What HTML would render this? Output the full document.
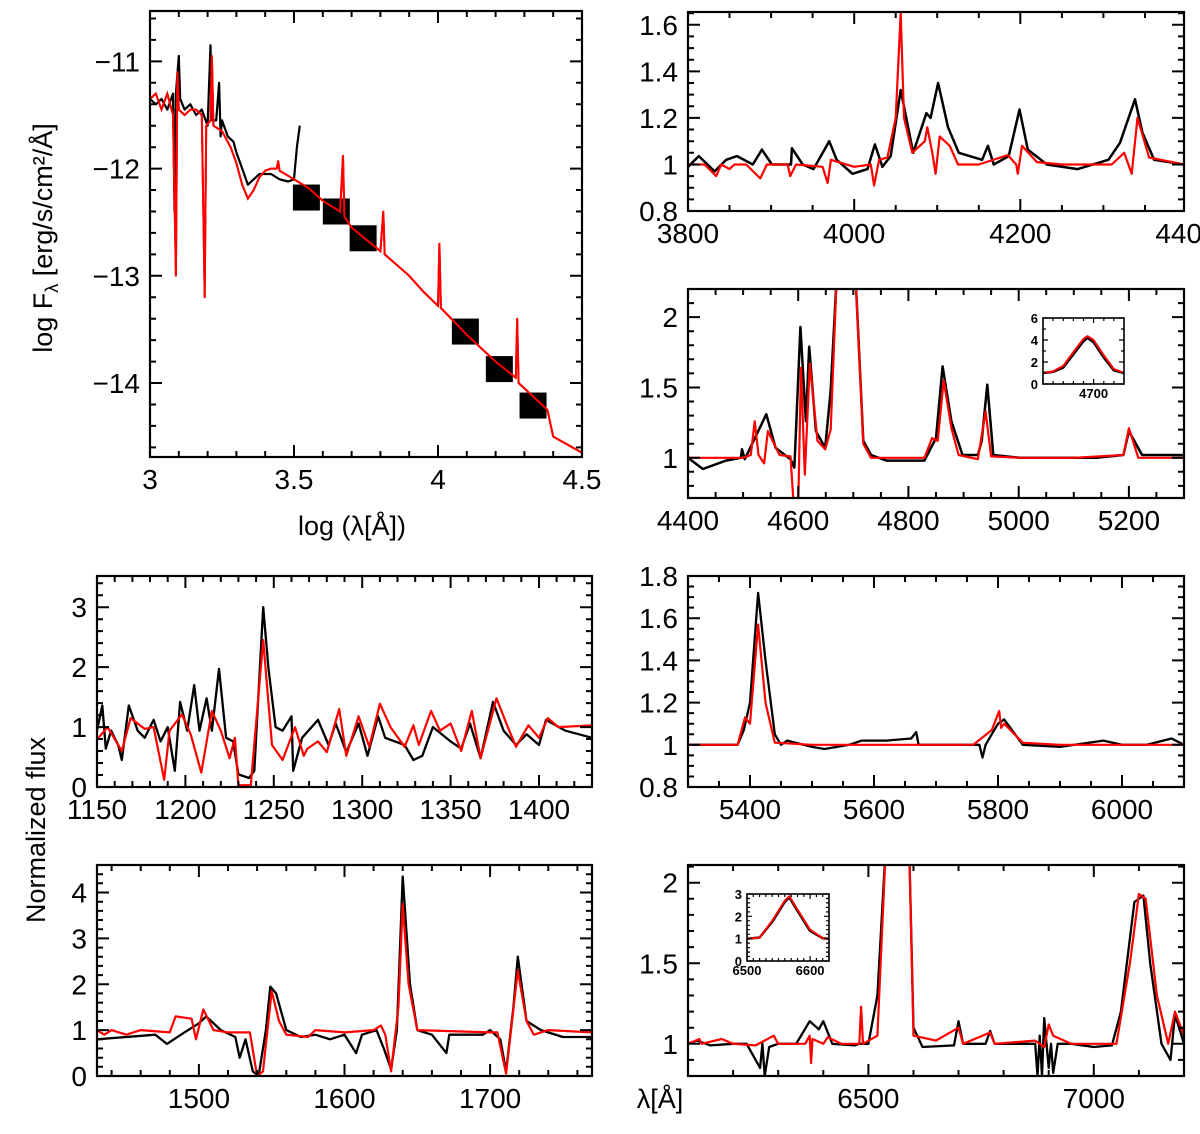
<!DOCTYPE html>
<html><head><meta charset="utf-8"><style>
html,body{margin:0;padding:0;background:#fff;}
svg text{font-family:"Liberation Sans",sans-serif;fill:#000;}
</style></head><body>
<svg id="fig" width="1200" height="1129" viewBox="0 0 1200 1129" xmlns="http://www.w3.org/2000/svg">
<text x="0" y="0" font-size="27" text-anchor="middle" transform="translate(52,238) rotate(-90)">log F<tspan font-size="18" dy="6">λ</tspan><tspan dy="-6"> [erg/s/cm²/Å]</tspan></text>
<text x="352" y="535" font-size="27" text-anchor="middle">log (λ[Å])</text>
<text x="0" y="0" font-size="27" text-anchor="middle" transform="translate(45,830) rotate(-90)">Normalized flux</text>
<text x="660" y="1108" font-size="27" text-anchor="middle">λ[Å]</text>
</svg>
<script>
// ---------- data ----------
const sedBlackX=[3.0,3.02,3.04,3.06,3.08,3.085,3.09,3.1,3.105,3.12,3.14,3.16,3.18,3.2,3.21,3.215,3.23,3.24,3.245,3.25,3.27,3.29,3.3,3.32,3.34,3.36,3.38,3.4,3.42,3.45,3.48,3.5,3.51,3.52];
const sedBlackY=[-11.35,-11.4,-11.35,-11.45,-11.3,-12.4,-11.3,-10.95,-11.35,-11.45,-11.4,-11.5,-11.45,-11.6,-10.85,-11.55,-11.55,-11.2,-11.7,-11.55,-11.7,-11.75,-11.85,-12.0,-12.15,-12.1,-12.05,-12.05,-12.05,-12.1,-12.12,-12.1,-11.8,-11.6];
const sedRedX=[3.0,3.02,3.04,3.06,3.08,3.09,3.095,3.1,3.12,3.14,3.16,3.18,3.19,3.195,3.21,3.215,3.22,3.25,3.28,3.3,3.32,3.34,3.36,3.38,3.4,3.42,3.44,3.445,3.45,3.5,3.55,3.6,3.66,3.67,3.675,3.7,3.8,3.81,3.815,3.9,3.95,4.0,4.005,4.01,4.1,4.2,4.27,4.275,4.28,4.38,4.4,4.5];
const sedRedY=[-11.35,-11.3,-11.45,-11.3,-11.5,-13.0,-11.1,-11.45,-11.5,-11.45,-11.45,-11.5,-13.2,-11.6,-11.55,-10.95,-11.6,-11.65,-11.8,-11.95,-12.15,-12.28,-12.2,-12.08,-12.02,-12.0,-12.0,-11.93,-12.02,-12.1,-12.18,-12.3,-12.4,-11.88,-12.45,-12.55,-12.77,-12.4,-12.8,-13.0,-13.15,-13.28,-12.7,-13.3,-13.55,-13.8,-13.95,-13.4,-14.0,-14.25,-14.5,-14.65];
const photX=[3.543,3.647,3.74,4.095,4.213,4.33];
const photY=[-12.27,-12.40,-12.65,-13.52,-13.87,-14.21];
const sedXTicks=["3","3.5","4","4.5"];
const sedYTicks=["−11","−12","−13","−14"];

const bBlackX=[3800,3813,3832,3846,3859,3878,3889,3901,3924,3925,3938,3951,3970,3979,3998,4016,4025,4034,4044,4056,4071,4087,4092,4101,4113,4126,4154,4161,4168,4186,4199,4209,4232,4269,4306,4320,4338,4347,4361,4397];
const bBlackY=[0.99,1.036,0.97,1.02,1.036,1.0,1.064,1.0,1.0,1.07,1.0,0.98,1.1,1.02,0.96,0.98,1.086,0.99,1.036,1.32,1.05,1.22,1.2,1.35,1.16,1.05,1.02,1.08,1.0,1.036,1.236,1.064,1.0,0.98,1.02,1.093,1.28,1.136,1.02,1.0];
const bRedX=[3800,3820,3834,3840,3850,3856,3870,3887,3895,3920,3923,3930,3962,3968,3972,4000,4020,4024,4030,4040,4050,4056,4060,4070,4085,4088,4094,4098,4103,4115,4125,4150,4185,4195,4197,4202,4220,4250,4310,4325,4334,4341,4355,4397];
const bRedY=[1.0,1.0,0.95,1.0,0.98,1.0,1.0,0.94,1.0,1.0,0.95,1.0,0.99,0.92,1.02,0.99,1.0,0.91,1.02,1.03,1.2,1.65,1.2,1.05,1.1,1.16,1.05,0.96,1.12,1.08,1.0,1.0,1.04,1.0,0.96,1.08,1.01,1.0,1.0,1.05,0.96,1.2,1.03,1.0];
const bXTicks=["3800","4000","4200","4400"];
const bYTicks=["0.8","1","1.2","1.4","1.6"];

const cBlackX=[4400,4427,4469,4496,4498,4503,4542,4559,4586,4593,4604,4614,4620,4632,4649,4659,4670,4688,4704,4718,4732,4760,4829,4850,4862,4878,4898,4926,4933,4943,4954,5002,5141,5190,5200,5224,5298];
const cBlackY=[1.0,0.92,0.98,1.0,1.06,0.99,1.31,1.07,0.99,0.93,1.93,1.26,1.79,1.19,1.07,1.48,2.3,4.3,2.3,1.12,1.02,0.98,0.98,1.14,1.65,1.26,1.02,1.02,1.12,1.52,1.02,1.0,1.0,1.02,1.19,1.02,1.02];
const cRedX=[4400,4500,4514,4521,4528,4538,4545,4566,4586,4592,4600,4605,4612,4621,4635,4649,4659,4670,4688,4704,4718,4732,4829,4843,4853,4864,4878,4891,4926,4940,4950,5002,5100,5190,5200,5217,5300];
const cRedY=[1.0,1.0,1.02,1.26,1.02,0.96,1.19,1.02,1.01,0.65,0.65,1.64,0.88,1.67,1.12,1.06,1.2,2.3,4.4,2.3,1.1,1.0,1.0,1.14,1.12,1.55,1.21,1.02,0.99,1.33,1.01,1.0,1.0,1.02,1.21,1.0,1.0];
const cXTicks=["4400","4600","4800","5000","5200"];
const cYTicks=["1","1.5","2"];
const ciX=[4600,4620,4640,4660,4680,4688,4700,4720,4740,4760];
const ciBlackY=[1.0,1.1,1.5,2.7,3.9,4.2,3.8,2.4,1.25,1.0];
const ciRedY=[1.0,1.15,1.65,2.9,4.1,4.35,4.0,2.6,1.35,1.0];
const ciXTicks=["4700"];
const ciYTicks=["0","2","4","6"];

const dBlackX=[1150,1153,1155,1158,1162,1164,1168,1173,1177,1182,1186,1190,1194,1197,1201,1205,1208,1212,1215,1219,1223,1227,1230,1236,1239,1244,1247,1251,1255,1260,1261,1266,1275,1281,1285,1291,1298,1303,1309,1313,1324,1329,1334,1340,1350,1356,1361,1367,1374,1380,1387,1393,1400,1404,1415,1430];
const dBlackY=[0.94,1.36,0.64,0.94,0.7,0.45,1.36,0.94,0.82,1.12,0.76,1.0,0.27,1.42,0.94,1.7,0.94,1.48,0.94,1.97,0.82,0.76,0.21,0.15,0.27,3.0,1.97,1.0,0.94,1.18,0.27,0.82,1.12,0.7,1.06,0.58,1.06,0.52,1.18,0.82,0.7,0.45,0.52,1.0,0.76,0.64,1.06,0.48,1.42,0.94,0.7,0.88,0.7,1.12,0.94,0.82];
const dRedX=[1150,1156,1164,1169,1177,1182,1188,1191,1198,1203,1209,1215,1220,1225,1228,1230,1237,1244,1249,1255,1262,1267,1269,1275,1280,1287,1291,1298,1304,1310,1316,1324,1329,1332,1339,1344,1350,1356,1362,1367,1376,1382,1387,1394,1400,1405,1411,1430];
const dRedY=[0.79,1.0,0.6,1.15,0.97,1.0,0.12,0.94,1.21,0.88,0.24,1.27,0.94,0.48,0.82,0.03,0.03,2.45,0.7,0.45,1.0,0.52,0.64,0.76,0.58,1.3,0.52,1.18,0.67,1.39,1.0,0.67,1.03,0.7,1.27,0.94,1.06,0.6,1.27,0.48,1.48,1.03,0.67,1.03,0.82,1.15,1.0,1.03];
const dXTicks=["1150","1200","1250","1300","1350","1400"];
const dYTicks=["0","1","2","3"];

const eBlackX=[1430,1450,1470,1478,1490,1500,1505,1515,1525,1528,1532,1537,1541,1546,1549,1553,1560,1570,1580,1590,1600,1608,1612,1622,1627,1632,1636,1640,1645,1650,1660,1670,1672,1695,1700,1707,1711,1716,1719,1725,1735,1750,1770];
const eBlackY=[0.8,0.85,0.9,0.7,0.95,1.15,1.3,1.0,0.85,0.4,0.8,0.1,0.0,1.0,1.95,1.8,1.0,0.85,0.9,0.8,0.9,0.5,0.9,1.0,0.6,0.15,1.0,4.35,2.0,1.0,0.9,0.5,0.9,0.9,1.0,0.8,0.1,1.5,2.6,1.2,1.0,0.85,0.85];
const eRedX=[1430,1435,1440,1450,1460,1480,1484,1495,1498,1503,1510,1520,1535,1540,1544,1550,1555,1560,1575,1580,1600,1620,1625,1628,1632,1637,1640,1644,1650,1700,1705,1711,1719,1725,1730,1740,1770];
const eRedY=[1.0,0.9,1.0,0.9,1.0,0.95,1.3,1.25,0.8,1.45,1.0,0.95,0.95,0.0,0.1,1.85,1.2,0.9,0.85,1.0,0.95,1.0,1.1,0.9,0.1,1.5,3.75,2.0,1.0,0.95,0.95,0.05,2.3,1.2,0.9,1.0,0.95];
const eXTicks=["1500","1600","1700"];
const eYTicks=["0","1","2","3","4"];

const fBlackX=[5300,5380,5390,5400,5413,5425,5440,5450,5460,5500,5520,5560,5580,5620,5660,5668,5672,5750,5770,5775,5780,5800,5810,5820,5840,5900,5970,6000,6040,6080,6100];
const fBlackY=[1.0,1.0,1.07,1.2,1.72,1.4,1.05,1.0,1.02,0.99,0.98,1.0,1.02,1.02,1.03,1.06,1.0,1.0,1.0,0.94,1.0,1.1,1.12,1.08,1.0,0.99,1.02,1.0,1.0,1.03,1.0];
const fRedX=[5300,5380,5392,5400,5413,5425,5440,5500,5700,5760,5790,5802,5805,5810,5840,5900,6100];
const fRedY=[1.0,1.0,1.13,1.1,1.57,1.2,1.01,1.0,1.0,1.0,1.07,1.16,1.08,1.1,1.01,1.0,1.0];
const fXTicks=["5400","5600","5800","6000"];
const fYTicks=["0.8","1","1.2","1.4","1.6","1.8"];

const gBlackX=[6100,6120,6150,6200,6230,6260,6265,6270,6280,6300,6340,6370,6390,6400,6420,6470,6480,6500,6520,6540,6565,6590,6600,6620,6690,6700,6710,6760,6770,6780,6870,6875,6880,6885,6890,6900,6905,6910,6920,6950,7000,7040,7060,7090,7110,7125,7150,7170,7180,7200];
const gBlackY=[1.0,1.02,0.99,1.0,1.0,0.85,1.0,0.8,0.98,1.0,1.0,1.14,1.09,1.14,1.0,0.99,1.0,1.0,1.3,2.3,2.9,2.3,1.1,0.98,0.99,1.14,1.0,1.0,1.08,1.0,1.0,0.8,1.05,0.8,1.16,0.85,1.0,0.82,1.0,1.0,0.98,0.99,1.2,1.88,1.92,1.5,1.0,0.9,1.18,1.0];
const gRedX=[6100,6125,6130,6175,6200,6250,6290,6300,6360,6370,6373,6376,6400,6410,6440,6480,6484,6488,6520,6540,6565,6590,6600,6650,6700,6710,6770,6780,6870,6890,6900,6910,6950,7050,7080,7100,7115,7140,7165,7180,7200];
const gRedY=[1.0,1.03,1.0,1.03,1.0,0.99,1.05,1.0,1.0,1.05,0.88,1.03,1.0,1.04,1.0,1.0,1.23,1.0,1.05,2.3,2.9,2.3,1.05,1.02,1.1,1.0,1.07,1.0,1.02,0.98,1.12,1.05,1.0,1.0,1.5,1.93,1.9,1.3,1.0,1.2,1.05];
const gXTicks=["6500","7000"];
const gYTicks=["1","1.5","2"];
const giX=[6500,6520,6540,6560,6567,6580,6600,6620,6630];
const giBlackY=[1.0,1.05,1.75,2.65,2.85,2.25,1.35,1.02,1.0];
const giRedY=[1.0,1.05,1.8,2.7,2.9,2.3,1.4,1.02,1.0];
const giXTicks=["6500","6600"];
const giYTicks=["0","1","2","3"];

// ---------- drawing ----------
const NS="http://www.w3.org/2000/svg";
const svg=document.getElementById('fig');
let clipId=0;
function mk(tag,attrs,parent){const e=document.createElementNS(NS,tag);for(const k in attrs)e.setAttribute(k,attrs[k]);(parent||svg).appendChild(e);return e;}
function lin(d0,d1,p0,p1){return v=>p0+(v-d0)*(p1-p0)/(d1-d0);}

function panel(o){
  const g=mk('g',{});
  
  
  const sx=lin(o.xr[0],o.xr[1],o.L,o.R), sy=lin(o.yr[0],o.yr[1],o.B,o.T);
  if(o.inset){const bg=mk('rect',{x:o.L,y:o.T,width:o.R-o.L,height:o.B-o.T,fill:'#fff'},g);}
  const id='c'+(clipId++);
  const cp=mk('clipPath',{id:id},g);mk('rect',{x:o.L,y:o.T,width:o.R-o.L,height:o.B-o.T},cp);
  const lg=mk('g',{'clip-path':'url(#'+id+')'},g);
  (o.series||[]).forEach(s=>{
    const pts=s.x.map((v,i)=>sx(v).toFixed(1)+','+sy(s.y[i]).toFixed(1)).join(' ');
    const pl=mk('polyline',{points:pts,fill:'none',stroke:s.c,'stroke-width':s.w,'stroke-linejoin':'round'},lg);
    
    
  });
  if(o.boxes){o.boxes.x.forEach((v,i)=>{
    const r=mk('rect',{x:sx(v)-13.5,y:sy(o.boxes.y[i])-13,width:27,height:26,fill:'#000'},lg);
    
    
  });
  const s=o.series[1];const pts=s.x.map((v,i)=>sx(v).toFixed(1)+','+sy(s.y[i]).toFixed(1)).join(' ');
  const pl=mk('polyline',{points:pts,fill:'none',stroke:s.c,'stroke-width':s.w},lg);
  
  }
  const fr=mk('rect',{x:o.L,y:o.T,width:o.R-o.L,height:o.B-o.T,fill:'none',stroke:'#000','stroke-width':o.inset?1.6:2.2},g);
  
  
  const ML=o.inset?5:12, mL=o.inset?3:6;
  let d='';
  const eps=1e-6;
  for(let v=Math.ceil(o.xr[0]/o.xm-eps)*o.xm;v<=o.xr[1]+eps;v+=o.xm){
    const x=sx(v);const maj=Math.abs(v/o.xM-Math.round(v/o.xM))<1e-4;const l=maj?ML:mL;
    d+=`M${x.toFixed(1)},${o.B}v${-l}M${x.toFixed(1)},${o.T}v${l}`;}
  for(let v=Math.ceil(o.yr[0]/o.ym-eps)*o.ym;v<=o.yr[1]+eps;v+=o.ym){
    const y=sy(v);const maj=Math.abs(v/o.yM-Math.round(v/o.yM))<1e-4;const l=maj?ML:mL;
    d+=`M${o.L},${y.toFixed(1)}h${l}M${o.R},${y.toFixed(1)}h${-l}`;}
  const tk=mk('path',{d:d,stroke:'#000','stroke-width':o.inset?1.2:2,fill:'none'},g);
  
  
  const fs=o.inset?13:28;
  o.xt.forEach(t=>{const v=parseFloat(t.replace('−','-'));
    const tx=mk('text',{x:sx(v),y:o.B+(o.inset?14:32),'font-size':fs,'text-anchor':'middle','font-weight':o.inset?'bold':'normal'},g);
    tx.textContent=t;
    
    });
  o.yt.forEach(t=>{const v=parseFloat(t.replace('−','-'));
    const tx=mk('text',{x:o.L-(o.inset?5:10),y:sy(v)+(o.inset?5:10),'font-size':fs,'text-anchor':'end','font-weight':o.inset?'bold':'normal'},g);
    tx.textContent=t;
    
    });
}
const K='#000',RD='#f00';
panel({name:'sed-panel',L:150,R:582,T:11,B:457,xr:[3,4.5],yr:[-14.69,-10.53],xM:0.5,xm:0.1,yM:1,ym:0.2,xt:sedXTicks,yt:sedYTicks,
  series:[{name:'sed-observed-line',x:sedBlackX,y:sedBlackY,c:K,w:2.2},{name:'sed-model-line',x:sedRedX,y:sedRedY,c:RD,w:2}],boxes:{x:photX,y:photY}});
panel({name:'panel-3800-4400',L:688,R:1184,T:12,B:211,xr:[3800,4397],yr:[0.8,1.655],xM:200,xm:50,yM:0.2,ym:0.05,xt:bXTicks,yt:bYTicks,
  series:[{name:'observed-line',x:bBlackX,y:bBlackY,c:K,w:2.5},{name:'model-line',x:bRedX,y:bRedY,c:RD,w:2.2}]});
panel({name:'panel-4400-5300',L:688,R:1184,T:289,B:498,xr:[4400,5300],yr:[0.714,2.2],xM:200,xm:50,yM:0.5,ym:0.1,xt:cXTicks,yt:cYTicks,
  series:[{name:'observed-line',x:cBlackX,y:cBlackY,c:K,w:2.5},{name:'model-line',x:cRedX,y:cRedY,c:RD,w:2.2}]});
panel({name:'inset-4700',inset:true,L:1043,R:1124,T:318,B:384,xr:[4600,4760],yr:[0,6],xM:100,xm:20,yM:2,ym:1,xt:ciXTicks,yt:ciYTicks,
  series:[{name:'inset-observed-line',x:ciX,y:ciBlackY,c:K,w:2.5},{name:'inset-model-line',x:ciX,y:ciRedY,c:RD,w:2}]});
panel({name:'panel-1150-1430',L:97,R:592,T:576,B:787,xr:[1150,1430],yr:[0,3.52],xM:50,xm:10,yM:1,ym:0.2,xt:dXTicks,yt:dYTicks,
  series:[{name:'observed-line',x:dBlackX,y:dBlackY,c:K,w:2.3},{name:'model-line',x:dRedX,y:dRedY,c:RD,w:2.2}]});
panel({name:'panel-1430-1770',L:97,R:592,T:865,B:1076,xr:[1430,1770],yr:[0,4.6],xM:100,xm:20,yM:1,ym:0.2,xt:eXTicks,yt:eYTicks,
  series:[{name:'observed-line',x:eBlackX,y:eBlackY,c:K,w:2.3},{name:'model-line',x:eRedX,y:eRedY,c:RD,w:2.2}]});
panel({name:'panel-5300-6100',L:688,R:1184,T:576,B:787,xr:[5300,6100],yr:[0.8,1.8],xM:200,xm:50,yM:0.2,ym:0.05,xt:fXTicks,yt:fYTicks,
  series:[{name:'observed-line',x:fBlackX,y:fBlackY,c:K,w:2.3},{name:'model-line',x:fRedX,y:fRedY,c:RD,w:2.2}]});
panel({name:'panel-6100-7200',L:688,R:1184,T:865,B:1076,xr:[6100,7200],yr:[0.8,2.11],xM:500,xm:100,yM:0.5,ym:0.1,xt:gXTicks,yt:gYTicks,
  series:[{name:'observed-line',x:gBlackX,y:gBlackY,c:K,w:2.3},{name:'model-line',x:gRedX,y:gRedY,c:RD,w:2.2}]});
panel({name:'inset-6560',inset:true,L:747,R:829,T:894,B:961,xr:[6500,6630],yr:[0,3],xM:100,xm:10,yM:1,ym:0.2,xt:giXTicks,yt:giYTicks,
  series:[{name:'inset-observed-line',x:giX,y:giBlackY,c:K,w:2.5},{name:'inset-model-line',x:giX,y:giRedY,c:RD,w:2}]});
</script>
</body></html>
